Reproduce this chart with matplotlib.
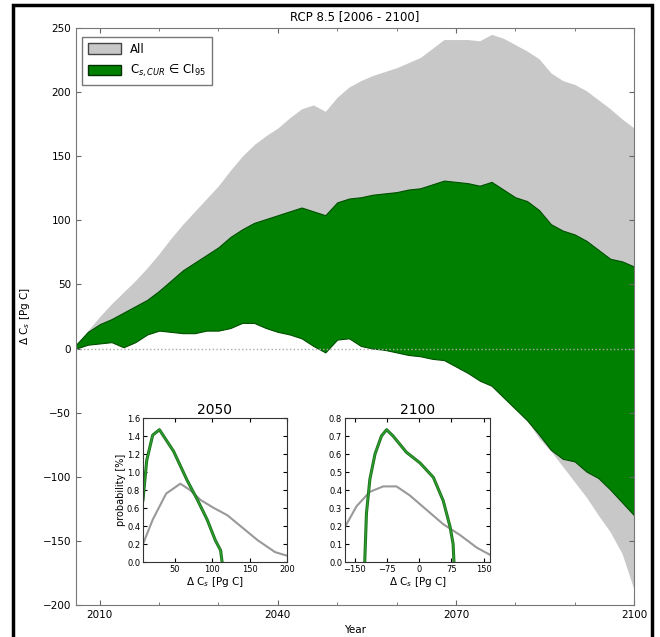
import numpy as np
import matplotlib
matplotlib.use("Agg")
import matplotlib.pyplot as plt
from matplotlib.patches import Rectangle, Patch

# === Données : bandes annuelles ===
years = [2006, 2008, 2010, 2012, 2014, 2016, 2018, 2020, 2022, 2024, 2026, 2028,
         2030, 2032, 2034, 2036, 2038, 2040, 2042, 2044, 2046, 2048, 2050, 2052,
         2054, 2056, 2058, 2060, 2062, 2064, 2066, 2068, 2070, 2072, 2074, 2076,
         2078, 2080, 2082, 2084, 2086, 2088, 2090, 2092, 2094, 2096, 2098, 2100]

all_upper = [2, 14, 25, 35, 44, 53, 63, 74, 86, 97, 107, 117,
             127, 139, 150, 159, 166, 172, 180, 187, 190, 185, 196, 204,
             209, 213, 216, 219, 223, 227, 234, 241, 241, 241, 240, 245,
             242, 237, 232, 226, 215, 209, 206, 201, 194, 187, 179, 172]
all_lower = [0, 3, 4, 5, 1, 5, 11, 14, 13, 12, 12, 14,
             14, 16, 20, 20, 16, 13, 11, 8, 2, -3, 7, 8,
             2, 0, -1, -3, -5, -6, -8, -9, -14, -19, -25, -29,
             -38, -47, -56, -70, -80, -92, -104, -116, -130, -143, -160, -188]

ci_upper = [3, 13, 19, 23, 28, 33, 38, 45, 53, 61, 67, 73,
            79, 87, 93, 98, 101, 104, 107, 110, 107, 104, 114, 117,
            118, 120, 121, 122, 124, 125, 128, 131, 130, 129, 127, 130,
            124, 118, 115, 108, 97, 92, 89, 84, 77, 70, 68, 64]
ci_lower = [0, 3, 4, 5, 1, 5, 11, 14, 13, 12, 12, 14,
            14, 16, 20, 20, 16, 13, 11, 8, 2, -3, 7, 8,
            2, 0, -1, -3, -5, -6, -8, -9, -14, -19, -25, -29,
            -38, -47, -56, -67, -79, -86, -88, -96, -101, -110, -120, -130]

# === Distributions (encarts) ===
x2050_all = [7, 20, 38, 57, 70, 84, 102, 120, 139, 161, 184, 200]
p2050_all = [0.20, 0.47, 0.76, 0.87, 0.80, 0.69, 0.60, 0.52, 0.39, 0.24, 0.11, 0.07]
x2050_ci = [7, 12, 20, 29, 48, 66, 80, 93, 104, 111, 113]
p2050_ci = [0.69, 1.13, 1.41, 1.47, 1.23, 0.91, 0.69, 0.47, 0.24, 0.13, 0.0]

x2100_all = [-173, -146, -115, -84, -53, -22, 17, 56, 95, 134, 165]
p2100_all = [0.195, 0.31, 0.39, 0.42, 0.42, 0.37, 0.29, 0.21, 0.15, 0.08, 0.04]
x2100_ci = [-127, -123, -115, -103, -88, -76, -61, -30, 2, 33, 56, 72, 79, 81]
p2100_ci = [0.0, 0.27, 0.46, 0.60, 0.70, 0.735, 0.70, 0.61, 0.55, 0.47, 0.34, 0.195, 0.10, 0.0]

# === Figure ===
plt.rcParams['xtick.direction'] = 'in'
plt.rcParams['ytick.direction'] = 'in'
plt.rcParams['font.family'] = 'DejaVu Sans'

fig = plt.figure(figsize=(6.6, 6.37), dpi=100)
fig.patches.append(Rectangle((13 / 660, -0.05), 639 / 660, 1 - 5 / 637 + 0.05,
                             transform=fig.transFigure, fill=False,
                             edgecolor='black', lw=2.5))

ax = fig.add_axes([76 / 660, 1 - 605 / 637, 558 / 660, 577 / 637])
gris = '#c8c8c8'
vert = '#008000'
ax.fill_between(years, all_lower, all_upper, color=gris, lw=0)
ax.fill_between(years, ci_lower, ci_upper, facecolor=vert, edgecolor='#005000', lw=0.8)
ax.axhline(0, color='#aaaaaa', ls=':', lw=1)
ax.set_xlim(2006, 2100)
ax.set_ylim(-200, 250)
ax.set_xticks([2010, 2040, 2070, 2100])
ax.set_xticks(np.arange(2020, 2100, 10), minor=True)
ax.set_yticks(np.arange(-200, 251, 50))
ax.tick_params(labelsize=7.5, top=True, right=True, color='#666666')
ax.tick_params(which='minor', top=True, color='#666666')
for s in ax.spines.values():
    s.set_color('#777777')
ax.set_xlabel("Year", fontsize=7.5)
ax.set_ylabel("Δ C$_s$ [Pg C]", fontsize=7.5, labelpad=8)
ax.set_title("RCP 8.5 [2006 - 2100]", fontsize=8.5, pad=6)
handles = [Patch(facecolor=gris, edgecolor='#444444', label='All'),
           Patch(facecolor=vert, edgecolor='#003000', label='C$_{s,CUR}$ ∈ CI$_{95}$')]
leg = ax.legend(handles=handles, loc='upper left', fontsize=8.5, fancybox=False,
                edgecolor='#555555', handlelength=2.8, handleheight=1.0,
                borderpad=0.5, labelspacing=0.6, bbox_to_anchor=(0.0, 0.995))

# encart 2050
ax1 = fig.add_axes([143 / 660, 1 - 562 / 637, 144 / 660, 144 / 637])
ax1.plot(x2050_all, p2050_all, color='#999999', lw=1.5)
ax1.plot(x2050_ci, p2050_ci, color='#1e6e1e', lw=2.2)
ax1.plot(x2050_ci, p2050_ci, color='#2ca02c', lw=1.0)
ax1.set_xlim(7, 200)
ax1.set_ylim(0, 1.6)
ax1.set_xticks([50, 100, 150, 200])
ax1.set_yticks(np.arange(0, 1.61, 0.2))
ax1.set_yticklabels([f"{v:.1f}" for v in np.arange(0, 1.61, 0.2)])
ax1.set_title("2050", fontsize=10, pad=3)
ax1.set_xlabel("Δ C$_s$ [Pg C]", fontsize=7.5, labelpad=1)
ax1.set_ylabel("probability [%]", fontsize=7, labelpad=1)

# encart 2100
ax2 = fig.add_axes([345 / 660, 1 - 562 / 637, 145 / 660, 144 / 637])
ax2.plot(x2100_all, p2100_all, color='#999999', lw=1.5)
ax2.plot(x2100_ci, p2100_ci, color='#1e6e1e', lw=2.2)
ax2.plot(x2100_ci, p2100_ci, color='#2ca02c', lw=1.0)
ax2.set_xlim(-173, 165)
ax2.set_ylim(0, 0.8)
ax2.set_xticks([-150, -75, 0, 75, 150])
ax2.set_yticks(np.arange(0, 0.81, 0.1))
ax2.set_yticklabels([f"{v:.1f}" for v in np.arange(0, 0.81, 0.1)])
ax2.set_title("2100", fontsize=10, pad=3)
ax2.set_xlabel("Δ C$_s$ [Pg C]", fontsize=7.5, labelpad=1)

for a in (ax1, ax2):
    a.tick_params(labelsize=6, top=True, right=True, length=3, pad=2)
    for s in a.spines.values():
        s.set_color('#333333')

fig.savefig("out.png", dpi=100)
